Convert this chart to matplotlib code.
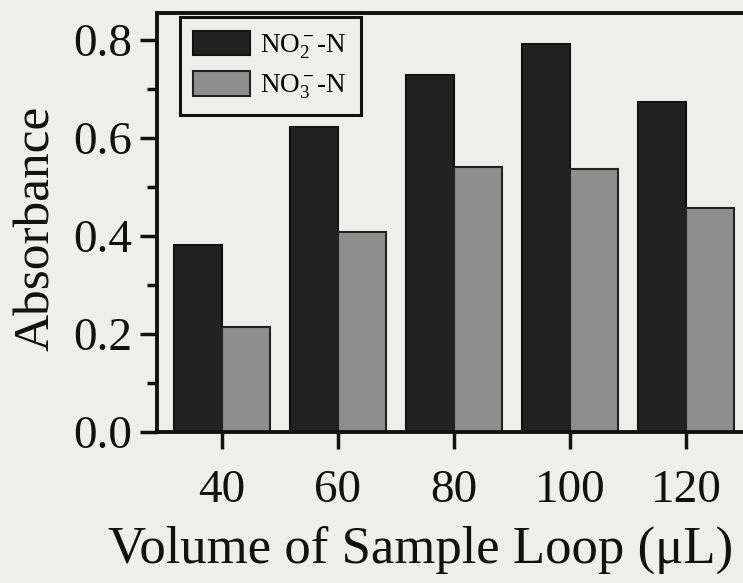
import matplotlib
matplotlib.use("Agg")
import matplotlib.pyplot as plt
import numpy as np

volumes = [40, 60, 80, 100, 120]
no2_n = [0.382, 0.622, 0.729, 0.792, 0.673]
no3_n = [0.214, 0.408, 0.541, 0.537, 0.457]
labels = [r"NO$_2^{\bf -}$-N", r"NO$_3^{\bf -}$-N"]

plt.rcParams['font.family'] = ['Liberation Serif', 'DejaVu Serif']
plt.rcParams['mathtext.fontset'] = 'custom'
plt.rcParams['mathtext.rm'] = 'Liberation Serif'
plt.rcParams['mathtext.it'] = 'Liberation Serif'
plt.rcParams['mathtext.bf'] = 'Liberation Serif:bold'

bg = '#eeeeec'
fig = plt.figure(figsize=(7.43, 5.83), dpi=100, facecolor=bg)
ax = fig.add_axes([157/743, 151/583, (758-157)/743, 419/583], facecolor=bg)

w = 8.2
x = np.array(volumes, dtype=float)
ax.bar(x - w/2, no2_n, width=w, color='#222222', edgecolor='#111111', linewidth=1.5, label=labels[0])
ax.bar(x + w/2, no3_n, width=w, color='#8e8e8e', edgecolor='#222222', linewidth=1.5, label=labels[1])

ax.set_xlim(28.8, 132.4)
ax.set_ylim(0, 0.855)
ax.set_xticks(volumes)
ax.set_yticks([0.0, 0.2, 0.4, 0.6, 0.8])
ax.set_yticks([0.1, 0.3, 0.5, 0.7], minor=True)
ax.set_yticklabels(['0.0', '0.2', '0.4', '0.6', '0.8'])

for s in ax.spines.values():
    s.set_linewidth(2.8)
    s.set_color('#111111')

ax.tick_params(axis='both', which='major', direction='out', length=12, width=2.5,
               labelsize=34, colors='#111111')
ax.tick_params(axis='x', which='major', pad=15)
ax.tick_params(axis='y', which='major', pad=6)
ax.tick_params(axis='y', which='minor', direction='out', length=7, width=2.5, colors='#111111')
ax.tick_params(axis='x', which='minor', bottom=False)

ax.set_xlabel('Volume of Sample Loop (μL)', fontsize=38, color='#111111', labelpad=10)
ax.xaxis.label.set_x(0.439)
ax.set_ylabel('Absorbance', fontsize=37, color='#111111', labelpad=9)
ax.yaxis.label.set_y(0.487)

leg = ax.legend(loc='upper left', bbox_to_anchor=(0.038, 0.990), borderaxespad=0,
                fontsize=19.5, frameon=True, fancybox=False, edgecolor='#111111',
                facecolor=bg, handlelength=2.1, handleheight=1.0, borderpad=0.5,
                labelspacing=0.4, handletextpad=0.37)
leg.get_frame().set_linewidth(2.2)
leg.get_frame().set_alpha(1)

fig.savefig('out.png', dpi=100, facecolor=bg)
